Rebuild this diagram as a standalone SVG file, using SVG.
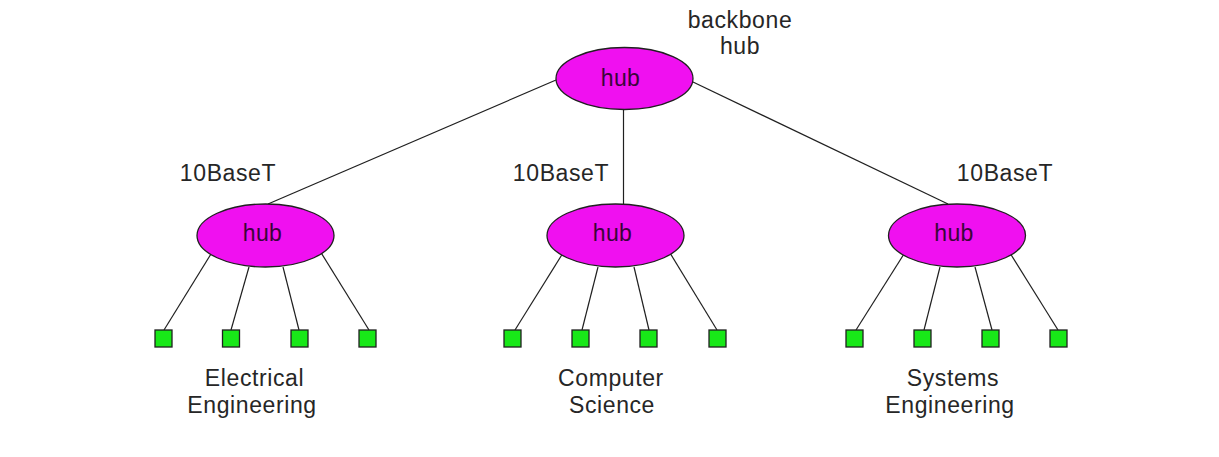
<svg xmlns="http://www.w3.org/2000/svg" width="1219" height="457" viewBox="0 0 1219 457">
<style>
.hub{fill:#f010f0;stroke:#202020;stroke-width:1.3}
.host{fill:#18e818;stroke:#202020;stroke-width:1.3}
.ln{stroke:#202020;stroke-width:1.2;fill:none}
.t{font-family:"Liberation Sans",Arial,sans-serif;font-size:23px;fill:#262626;text-anchor:middle;letter-spacing:0.6px}
.ht{font-family:"Liberation Sans",Arial,sans-serif;font-size:23px;fill:#3a053a;text-anchor:middle;letter-spacing:0.4px}
</style>
<rect width="1219" height="457" fill="#fff"/>
<g id="connectors">
<line class="ln" x1="556" y1="80" x2="268" y2="204"/>
<line class="ln" x1="623.5" y1="110" x2="623.5" y2="204"/>
<line class="ln" x1="693" y1="82" x2="948" y2="204"/>
<line class="ln" x1="211" y1="254" x2="164" y2="330"/>
<line class="ln" x1="249" y1="267" x2="231" y2="330"/>
<line class="ln" x1="283" y1="267" x2="299" y2="330"/>
<line class="ln" x1="320" y1="251" x2="369" y2="330"/>
<line class="ln" x1="563" y1="253" x2="515" y2="330"/>
<line class="ln" x1="598" y1="267" x2="582" y2="330"/>
<line class="ln" x1="634" y1="267" x2="649" y2="330"/>
<line class="ln" x1="670" y1="253" x2="717" y2="330"/>
<line class="ln" x1="904" y1="254" x2="856" y2="330"/>
<line class="ln" x1="940" y1="267" x2="924" y2="330"/>
<line class="ln" x1="975" y1="267" x2="992" y2="330"/>
<line class="ln" x1="1010" y1="253" x2="1058" y2="330"/>
</g>
<g id="backbone-hub">
<ellipse class="hub" cx="624.5" cy="78.5" rx="68.5" ry="31"/>
<text class="ht" x="620.5" y="86">hub</text>
<text class="t" x="740" y="28">backbone</text>
<text class="t" x="740" y="54">hub</text>
</g>
<g id="ee-hub">
<ellipse class="hub" cx="265.5" cy="235.5" rx="68.5" ry="31.5"/>
<text class="ht" x="262.5" y="241">hub</text>
<text class="t" x="228" y="181">10BaseT</text>
</g>
<g id="cs-hub">
<ellipse class="hub" cx="615.5" cy="235.5" rx="68.5" ry="31.5"/>
<text class="ht" x="612.5" y="241">hub</text>
<text class="t" x="561" y="181">10BaseT</text>
</g>
<g id="se-hub">
<ellipse class="hub" cx="957" cy="235.5" rx="68.5" ry="31.5"/>
<text class="ht" x="954" y="241">hub</text>
<text class="t" x="1005" y="181">10BaseT</text>
</g>
<g id="ee-hosts">
<rect class="host" x="155" y="330" width="17" height="17"/>
<rect class="host" x="222.5" y="330" width="17" height="17"/>
<rect class="host" x="291" y="330" width="17" height="17"/>
<rect class="host" x="359" y="330" width="17" height="17"/>
<text class="t" x="254.5" y="386">Electrical</text>
<text class="t" x="252" y="413">Engineering</text>
</g>
<g id="cs-hosts">
<rect class="host" x="504" y="330" width="17" height="17"/>
<rect class="host" x="572" y="330" width="17" height="17"/>
<rect class="host" x="640" y="330" width="17" height="17"/>
<rect class="host" x="709" y="330" width="17" height="17"/>
<text class="t" x="611" y="386">Computer</text>
<text class="t" x="612" y="413">Science</text>
</g>
<g id="se-hosts">
<rect class="host" x="846" y="330" width="17" height="17"/>
<rect class="host" x="914" y="330" width="17" height="17"/>
<rect class="host" x="982" y="330" width="17" height="17"/>
<rect class="host" x="1050" y="330" width="17" height="17"/>
<text class="t" x="953" y="386">Systems</text>
<text class="t" x="950" y="413">Engineering</text>
</g>
</svg>
